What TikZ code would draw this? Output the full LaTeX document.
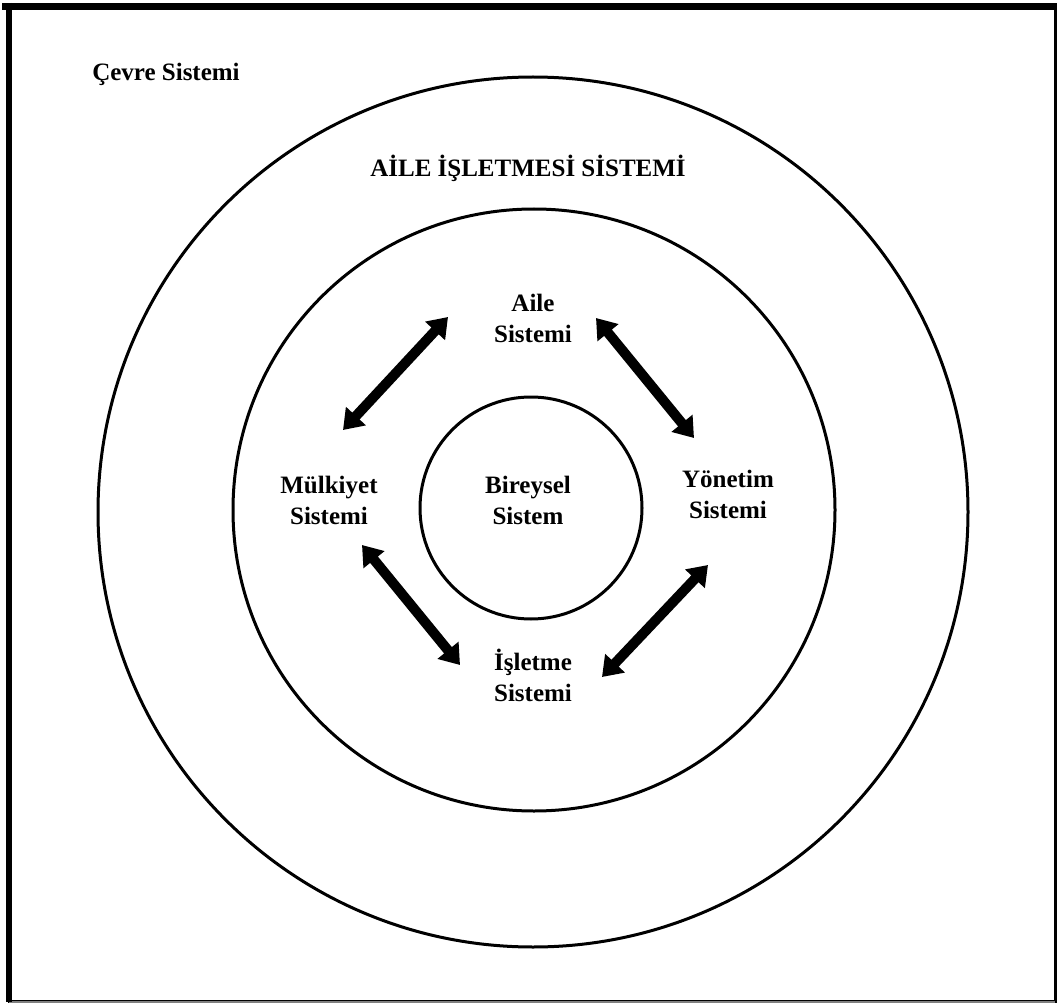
\documentclass[tikz,border=0pt]{standalone}
\usepackage{fontspec}
\setmainfont{Liberation Serif}
\usetikzlibrary{arrows.meta}
\begin{document}
\begin{tikzpicture}[x=1pt,y=-1pt,
  lbl/.style={font=\fontsize{25}{31}\selectfont\bfseries, align=center, inner sep=0pt},
  ring/.style={draw, circle, line width=3pt, inner sep=0pt},
  dblarrow/.style={line width=10pt, {Triangle[width=26pt,length=19pt]}-{Triangle[width=26pt,length=19pt]}}]
\useasboundingbox (0,0) rectangle (1058,1003);
\fill[white] (0,0) rectangle (1058,1003);
% frame
\draw[line width=3pt] (9,6.5) rectangle (1055,1001);
\draw[line width=2pt, gray] (9,1001.5) -- (1055,1001.5);
\draw[line width=6.5pt] (2,6.5) -- (1057,6.5);
\draw[line width=6.5pt] (9,3) -- (9,1002);
% rings
\node[ring, minimum size=870pt] (outer) at (533,512) {};
\node[ring, minimum size=602pt] (middle) at (534,510) {};
\node[ring, minimum size=222pt] (inner) at (531,508) {};
% labels
\node[lbl] (cevre) at (166,74) {Çevre Sistemi};
\node[lbl] (title) at (528,168) {AİLE İŞLETMESİ SİSTEMİ};
\node[lbl] (aile) at (533,318) {Aile\\Sistemi};
\node[lbl] (mulk) at (329,500) {Mülkiyet\\Sistemi};
\node[lbl] (bir) at (528,500) {Bireysel\\Sistem};
\node[lbl] (yon) at (728,494) {Yönetim\\Sistemi};
\node[lbl] (isl) at (533,675) {İşletme\\Sistemi};
% arrow ends
\coordinate (a1) at (343,430);
\coordinate (a2) at (448,317);
\coordinate (b1) at (596,318);
\coordinate (b2) at (694,438);
\coordinate (c1) at (708,565);
\coordinate (c2) at (602,677);
\coordinate (d1) at (362,545);
\coordinate (d2) at (460,665);
\draw[dblarrow] (a1) -- (a2);
\draw[dblarrow] (b1) -- (b2);
\draw[dblarrow] (c1) -- (c2);
\draw[dblarrow] (d1) -- (d2);
\end{tikzpicture}
\end{document}
